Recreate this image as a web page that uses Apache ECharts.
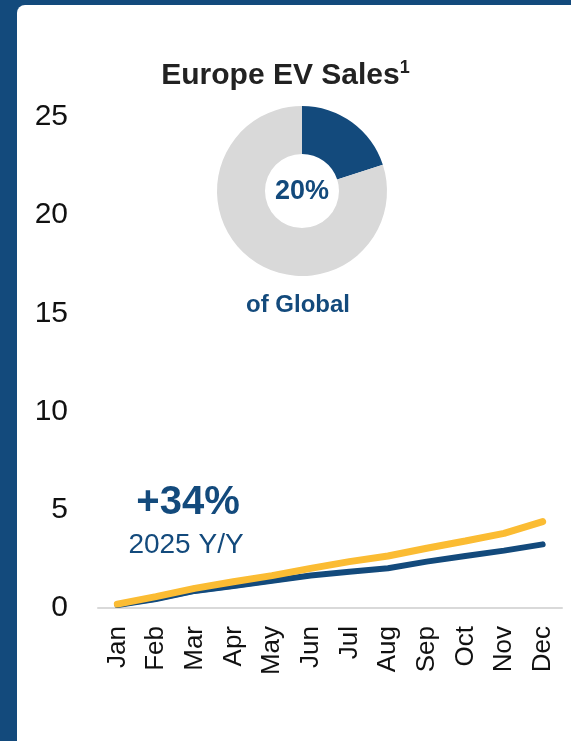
<!DOCTYPE html>
<html>
<head>
<meta charset="utf-8">
<script src="https://cdn.jsdelivr.net/npm/echarts@6/dist/echarts.min.js"></script>
<style>
  html, body { margin: 0; padding: 0; }
  body { width: 571px; height: 741px; background: #134a7c; position: relative; overflow: hidden; }
  #card { position: absolute; left: 17px; top: 5px; right: 0; bottom: 0; background: #fff; border-top-left-radius: 8px; }
  #chart { position: absolute; left: 0; top: 0; width: 571px; height: 741px; }
</style>
</head>
<body>
<div id="card"></div>
<div id="chart"></div>
<script>
// monthly cumulative EV sales (millions)
const months = ['Jan', 'Feb', 'Mar', 'Apr', 'May', 'Jun', 'Jul', 'Aug', 'Sep', 'Oct', 'Nov', 'Dec']
const sales2025 = [0.2, 0.58, 1.0, 1.34, 1.65, 2.02, 2.36, 2.65, 3.04, 3.41, 3.8, 4.4]
const sales2024 = [0.15, 0.46, 0.87, 1.12, 1.39, 1.65, 1.85, 2.02, 2.36, 2.65, 2.92, 3.24]
const salesPrior = [0.1, 0.4, 0.8, 1.06, 1.33, 1.62, 1.84, 2.02, 2.36, 2.65, 2.92, 3.24]
const yTicks = [0, 25, 5]
// share of global sales
const shareNames = ['Europe', 'Rest of world']
const shareValues = [20, 80]
const growthText = ['+34%', '2025 Y/Y']

const blue = '#134a7c'
const yellow = '#fbbc33'
const font = "'Liberation Sans', Arial, sans-serif"

function label(x, y, text, size, weight) {
  return {
    type: 'text',
    x: x,
    y: y,
    style: {
      text: text,
      align: 'center',
      verticalAlign: 'middle',
      fontSize: size,
      fontWeight: weight,
      fill: blue,
      fontFamily: font
    }
  }
}

const chart = echarts.init(document.getElementById('chart'))
chart.setOption({
  animation: false,
  textStyle: { fontFamily: font },
  title: {
    text: 'Europe EV Sales{s|1}',
    left: 'center',
    top: 54,
    textStyle: {
      fontSize: 30,
      fontWeight: 'bold',
      color: '#222',
      fontFamily: font,
      rich: {
        s: { fontSize: 18, fontWeight: 'bold', color: '#222', padding: [0, 0, 16, 0] }
      }
    }
  },
  grid: {
    top: 117,
    left: 98,
    right: 9,
    bottom: 133
  },
  xAxis: {
    type: 'category',
    data: months,
    axisTick: { show: false },
    axisLine: {
      lineStyle: { color: '#d9d9d9', width: 2 }
    },
    axisLabel: {
      rotate: 90,
      fontSize: 26,
      color: '#111',
      margin: 18,
      interval: 0
    }
  },
  yAxis: {
    type: 'value',
    min: yTicks[0],
    max: yTicks[1],
    interval: yTicks[2],
    axisLine: { show: false },
    axisTick: { show: false },
    splitLine: { show: false },
    axisLabel: {
      fontSize: 30,
      color: '#111',
      margin: 30
    }
  },
  graphic: [
    label(188, 503, growthText[0], 40, 'bold'),
    label(186, 545, growthText[1], 28, 'normal'),
    label(302, 192, shareValues[0] + '%', 27, 'bold'),
    label(298, 305, 'of Global', 24, 'bold')
  ],
  series: [
    {
      type: 'pie',
      center: [302, 191],
      radius: [37, 85],
      startAngle: 90,
      clockwise: true,
      silent: true,
      label: { show: false },
      labelLine: { show: false },
      data: shareNames.map((n, i) => ({
        name: n,
        value: shareValues[i],
        itemStyle: { color: i === 0 ? blue : '#d9d9d9' }
      }))
    },
    {
      name: 'prior',
      type: 'line',
      data: salesPrior,
      showSymbol: false,
      lineStyle: { color: '#5b9bd5', width: 3, cap: 'round' }
    },
    {
      name: '2024',
      type: 'line',
      data: sales2024,
      showSymbol: false,
      lineStyle: { color: blue, width: 6, cap: 'round' }
    },
    {
      name: '2025',
      type: 'line',
      data: sales2025,
      showSymbol: false,
      lineStyle: { color: yellow, width: 7, cap: 'round' }
    }
  ]
})
</script>
</body>
</html>
